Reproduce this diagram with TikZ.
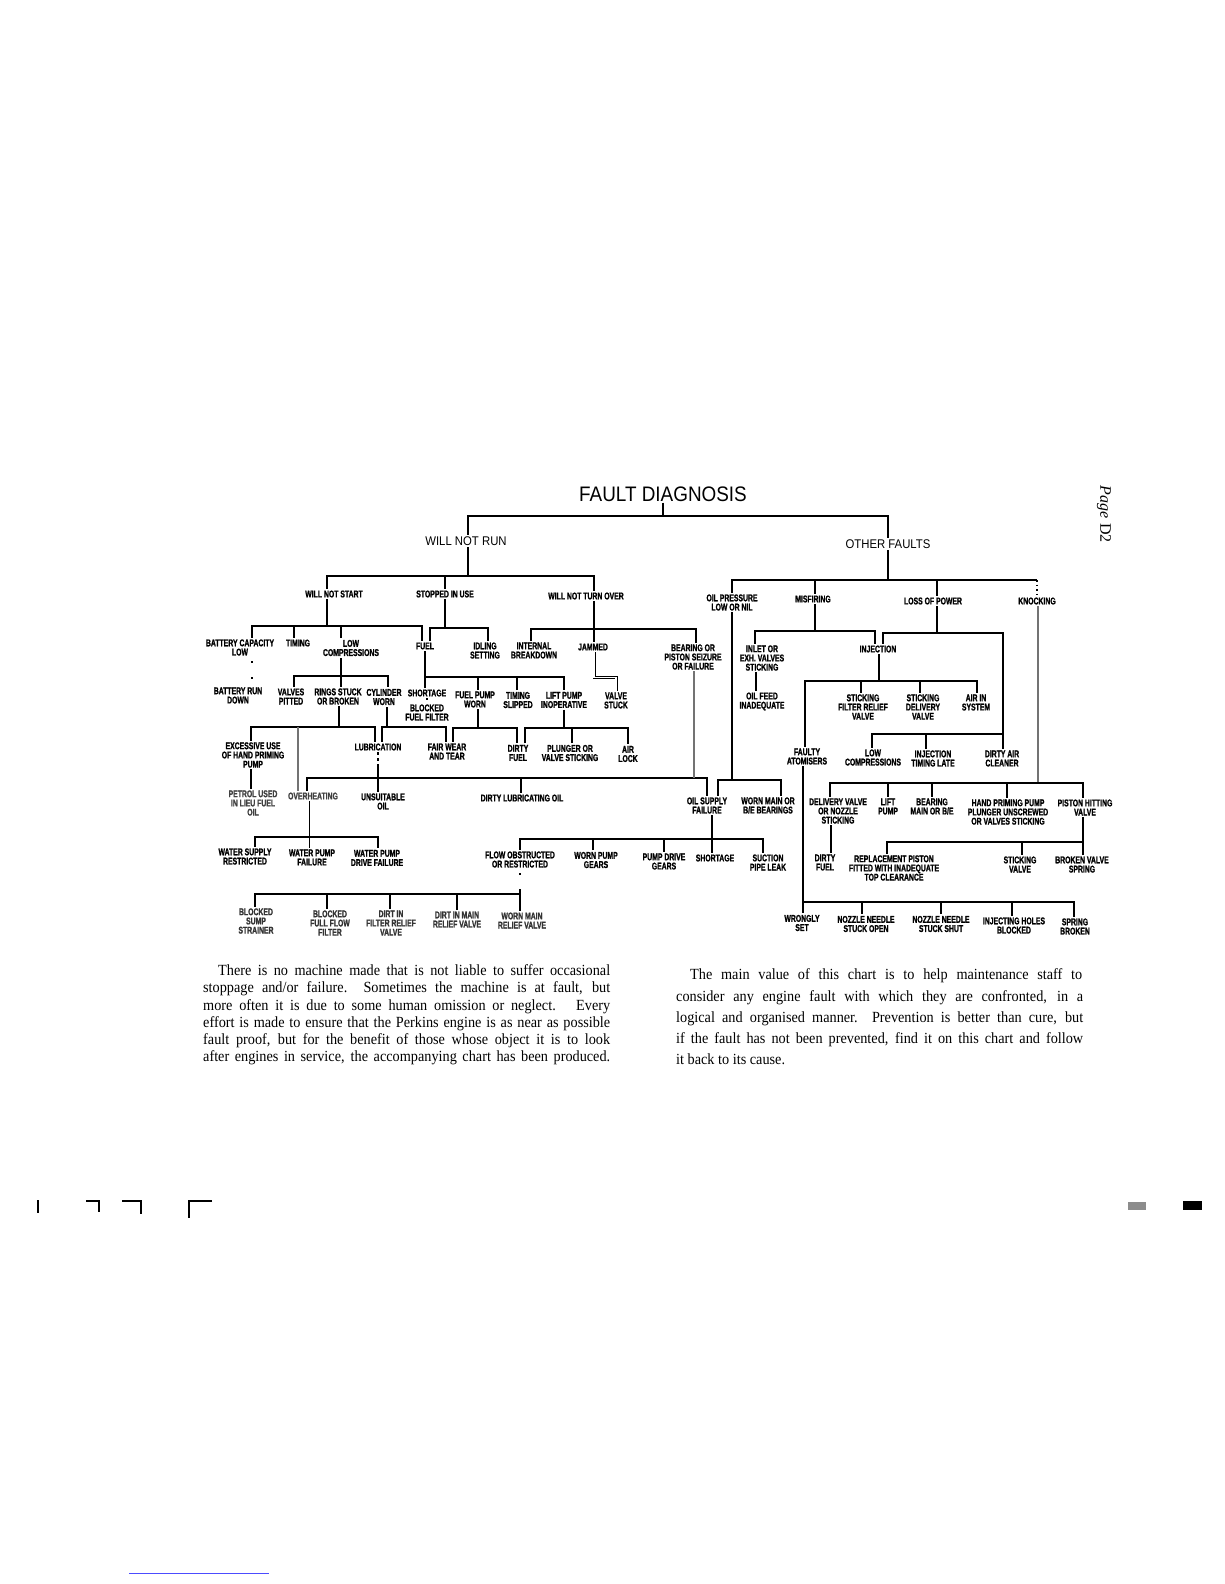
\documentclass[tikz,border=0pt]{standalone}
\usepackage{fontspec}
\setmainfont{Liberation Serif}
\newfontfamily\labfont[FakeStretch=0.7,BoldFeatures={FakeBold=1.2}]{Liberation Sans}
\newfontfamily\headfont[FakeStretch=0.9]{Liberation Sans}
\newfontfamily\parafont[FakeStretch=0.92]{Liberation Serif}

\begin{document}
\begin{tikzpicture}[x=1pt,y=-1pt,lab/.style={font=\labfont\bfseries\fontsize{9.8}{9.2}\selectfont,align=center,inner sep=1.5pt},head/.style={font=\headfont\fontsize{12.6}{12.6}\selectfont,inner sep=1.5pt},link/.style={line width=2.2pt},faint/.style={line width=1.6pt,black!55},dbl/.style={double,double distance=1.2pt,line width=0.9pt},dots/.style={line width=1.8pt,dash pattern=on 1.6pt off 3pt},para/.style={font=\parafont\fontsize{15.5}{17}\selectfont,anchor=base west,inner sep=0pt}]
\useasboundingbox (0,0) rectangle (1224,1584);
\fill[white] (0,0) rectangle (1224,1584);
\node[font=\headfont\fontsize{21}{21}\selectfont,inner sep=1pt] (title) at (663,494){FAULT DIAGNOSIS};
\node[head] (wnr) at (466,541){WILL NOT RUN};
\node[head] (of) at (888,544){OTHER FAULTS};
\node[lab] (wns) at (334,594){WILL NOT START};
\node[lab] (siu) at (445,594){STOPPED IN USE};
\node[lab] (wnto) at (586,596){WILL NOT TURN OVER};
\node[lab] (oilp) at (732,602.5){OIL PRESSURE\\LOW OR NIL};
\node[lab] (misf) at (813,599){MISFIRING};
\node[lab] (loss) at (933,601){LOSS OF POWER};
\node[lab] (knock) at (1037,601){KNOCKING};
\node[lab] (batt) at (240,647.5){BATTERY CAPACITY\\LOW};
\node[lab] (timing) at (298,643){TIMING};
\node[lab] (lowc) at (351,648){LOW\\COMPRESSIONS};
\node[lab] (fuel) at (425,646){FUEL};
\node[lab] (idling) at (485,650.5){IDLING\\SETTING};
\node[lab] (intb) at (534,650.5){INTERNAL\\BREAKDOWN};
\node[lab] (jammed) at (593,647){JAMMED};
\node[lab] (bearing) at (693,657){BEARING OR\\PISTON SEIZURE\\OR FAILURE};
\node[lab] (brun) at (238,695.5){BATTERY RUN\\DOWN};
\node[lab] (valves) at (291,696.5){VALVES\\PITTED};
\node[lab] (rings) at (338,696.5){RINGS STUCK\\OR BROKEN};
\node[lab] (cyl) at (384,697){CYLINDER\\WORN};
\node[lab] (short) at (427,693){SHORTAGE};
\node[lab] (blocked) at (427,712.5){BLOCKED\\FUEL FILTER};
\node[lab] (fpw) at (475,699.5){FUEL PUMP\\WORN};
\node[lab] (tslip) at (518,700){TIMING\\SLIPPED};
\node[lab] (lift) at (564,700){LIFT PUMP\\INOPERATIVE};
\node[lab] (vstuck) at (616,700.5){VALVE\\STUCK};
\node[lab] (exc) at (253,755){EXCESSIVE USE\\OF HAND PRIMING\\PUMP};
\node[lab] (lub) at (378,747){LUBRICATION};
\node[lab] (fairw) at (447,751.5){FAIR WEAR\\AND TEAR};
\node[lab] (dfuel) at (518,753){DIRTY\\FUEL};
\node[lab] (plung) at (570,753){PLUNGER OR\\VALVE STICKING};
\node[lab] (airl) at (628,754){AIR\\LOCK};
\node[lab,text=black!75] (petrol) at (253,803){PETROL USED\\IN LIEU FUEL\\OIL};
\node[lab,text=black!75] (overh) at (313,796){OVERHEATING};
\node[lab] (unsuit) at (383,801.5){UNSUITABLE\\OIL};
\node[lab] (dlub) at (522,798){DIRTY LUBRICATING OIL};
\node[lab] (oilsf) at (707,805.5){OIL SUPPLY\\FAILURE};
\node[lab] (wornmb) at (768,805.5){WORN MAIN OR\\B/E BEARINGS};
\node[lab] (wsup) at (245,856.5){WATER SUPPLY\\RESTRICTED};
\node[lab] (wpf) at (312,857.5){WATER PUMP\\FAILURE};
\node[lab] (wpd) at (377,858){WATER PUMP\\DRIVE FAILURE};
\node[lab] (flow) at (520,859.5){FLOW OBSTRUCTED\\OR RESTRICTED};
\node[lab] (wpg) at (596,860){WORN PUMP\\GEARS};
\node[lab] (pdg) at (664,861.5){PUMP DRIVE\\GEARS};
\node[lab] (short2) at (715,858){SHORTAGE};
\node[lab] (suct) at (768,862.5){SUCTION\\PIPE LEAK};
\node[lab,text=black!80] (bsump) at (256,921){BLOCKED\\SUMP\\STRAINER};
\node[lab,text=black!80] (bff) at (330,923){BLOCKED\\FULL FLOW\\FILTER};
\node[lab,text=black!80] (dif) at (391,923){DIRT IN\\FILTER RELIEF\\VALVE};
\node[lab,text=black!80] (dim) at (457,919.5){DIRT IN MAIN\\RELIEF VALVE};
\node[lab,text=black!80] (wmr) at (522,920.5){WORN MAIN\\RELIEF VALVE};
\node[lab] (inlet) at (762,658){INLET OR\\EXH. VALVES\\STICKING};
\node[lab] (inj) at (878,649){INJECTION};
\node[lab] (oilfeed) at (762,701.5){OIL FEED\\INADEQUATE};
\node[lab] (sfrv) at (863,707){STICKING\\FILTER RELIEF\\VALVE};
\node[lab] (sdv) at (923,707){STICKING\\DELIVERY\\VALVE};
\node[lab] (airs) at (976,702.5){AIR IN\\SYSTEM};
\node[lab] (faulty) at (807,756.5){FAULTY\\ATOMISERS};
\node[lab] (lowc2) at (873,757.5){LOW\\COMPRESSIONS};
\node[lab] (itl) at (933,758.5){INJECTION\\TIMING LATE};
\node[lab] (dac) at (1002,758.5){DIRTY AIR\\CLEANER};
\node[lab] (delv) at (838,811){DELIVERY VALVE\\OR NOZZLE\\STICKING};
\node[lab] (liftp) at (888,806.5){LIFT\\PUMP};
\node[lab] (bearm) at (932,806.5){BEARING\\MAIN OR B/E};
\node[lab] (hpp) at (1008,812){HAND PRIMING PUMP\\PLUNGER UNSCREWED\\OR VALVES STICKING};
\node[lab] (phv) at (1085,807.5){PISTON HITTING\\VALVE};
\node[lab] (dfuel2) at (825,862.5){DIRTY\\FUEL};
\node[lab] (repl) at (894,868){REPLACEMENT PISTON\\FITTED WITH INADEQUATE\\TOP CLEARANCE};
\node[lab] (stv) at (1020,864.5){STICKING\\VALVE};
\node[lab] (bvs) at (1082,864.5){BROKEN VALVE\\SPRING};
\node[lab] (wrong) at (802,923){WRONGLY\\SET};
\node[lab] (nnso) at (866,924){NOZZLE NEEDLE\\STUCK OPEN};
\node[lab] (nnss) at (941,924){NOZZLE NEEDLE\\STUCK SHUT};
\node[lab] (ihb) at (1014,925.5){INJECTING HOLES\\BLOCKED};
\node[lab] (sprb) at (1075,926.5){SPRING\\BROKEN};
\coordinate (bTop) at (663,516); \coordinate (bWNR) at (468,576); \coordinate (bOF) at (888,580); \coordinate (bWNS) at (327,626); \coordinate (bSIU) at (445,628); \coordinate (bWNTO) at (594,629); \coordinate (bLOWC) at (341,676); \coordinate (bFUEL) at (425,677); \coordinate (bRING) at (339,727); \coordinate (bCYL) at (387,727); \coordinate (bFPW) at (478,728); \coordinate (bLIFT) at (564,728); \coordinate (bLUB) at (378,778); \coordinate (bOILP) at (732,780); \coordinate (bOVH) at (308,837); \coordinate (bOSF) at (712,839); \coordinate (bFLOW) at (520,894); \coordinate (bMIS) at (815,631); \coordinate (bLOSS) at (937,633); \coordinate (bINJ) at (879,681); \coordinate (bDAC) at (1003,734); \coordinate (bKN) at (1038,783); \coordinate (bPHV) at (1083,842); \coordinate (bFAU) at (803,902);
\draw[link] (title.south) -- (bTop); \draw[link] ([xshift=2pt]wnr.north) |- (bTop) -| (of.north); \draw[link] ([xshift=2pt]wnr.south) -- (bWNR); \draw[link] ([xshift=-7pt]wns.north) |- (bWNR) -| ([xshift=8pt]wnto.north); \draw[link] (siu.north) -- (siu.north |- bWNR); \draw[link] (of.south) -- (bOF); \draw[link] (oilp.north) |- (bOF) -- (bOF -| knock.north); \draw[dots] (bOF -| knock.north) -- (knock.north); \draw[link] ([xshift=2pt]misf.north) -- ([xshift=2pt]misf.north |- bOF); \draw[link] ([xshift=4pt]loss.north) -- ([xshift=4pt]loss.north |- bOF);
\draw[link] ([xshift=-7pt]wns.south) -- (bWNS); \draw[link] ([xshift=12pt]batt.north) |- (bWNS) -| ([xshift=-3pt]fuel.north); \draw[link] ([xshift=-4pt]timing.north) -- ([xshift=-4pt]timing.north |- bWNS); \draw[link] ([xshift=-10pt]lowc.north) -- ([xshift=-10pt]lowc.north |- bWNS); \draw[link] (siu.south) -- (bSIU); \draw[link] ([xshift=5pt]fuel.north) |- (bSIU) -| ([xshift=3pt]idling.north); \draw[link] ([xshift=8pt]wnto.south) -- ([xshift=1pt]jammed.north); \draw[link] ([xshift=-3pt]intb.north) |- (bWNTO) -| ([xshift=3pt]bearing.north); \draw[dbl] ([xshift=1pt]jammed.south) -- ++(0,25) -| (vstuck.north); \draw[dots,line width=2pt,dash pattern=on 2pt off 14pt,dash phase=12pt] ([xshift=12pt]batt.south) -- ([xshift=14pt]brun.north);
\draw[link] ([xshift=-10pt]lowc.south) -- ([xshift=3pt]rings.north); \draw[link] ([xshift=3pt]valves.north) |- (bLOWC) -| ([xshift=4pt]cyl.north); \draw[link] (fuel.south) -- ([xshift=-2pt]short.north); \draw[link] (bFUEL) -| (lift.north); \draw[link] ([xshift=3pt]fpw.north) -- ([xshift=3pt]fpw.north |- bFUEL); \draw[link] ([xshift=-1pt]tslip.north) -- ([xshift=-1pt]tslip.north |- bFUEL); \draw[dots] (short.south) -- (blocked.north);
\draw[link] ([xshift=1pt]rings.south) -- (bRING); \draw[link] ([xshift=-2pt]exc.north) |- (bRING) -| ([xshift=-3pt]lub.north); \draw[faint] ([xshift=-15pt]overh.north) -- ([xshift=-15pt]overh.north |- bRING); \draw[link] ([xshift=3pt]cyl.south) -- (bCYL); \draw[link] ([xshift=4pt]lub.north) |- (bCYL) -| ([xshift=-1pt]fairw.north); \draw[link] ([xshift=3pt]fpw.south) -- (bFPW); \draw[link] ([xshift=6pt]fairw.north) |- (bFPW) -| ([xshift=-1pt]dfuel.north); \draw[link] (lift.south) -- (bLIFT); \draw[link] ([xshift=7pt]dfuel.north) |- (bLIFT) -| (airl.north); \draw[link] ([xshift=2pt]plung.north) -- ([xshift=2pt]plung.north |- bLIFT);
\draw[link] ([xshift=-2pt]exc.south) -- ([xshift=-2pt]petrol.north); \draw[link,dash pattern=on 3pt off 3pt on 3pt off 3pt on 60pt off 1pt] (lub.south) -- ([xshift=-5pt]unsuit.north); \draw[link] ([xshift=-6pt]overh.north) |- (bLUB) -| (oilsf.north); \draw[link] ([xshift=-1pt]dlub.north) -- ([xshift=-1pt]dlub.north |- bLUB); \draw[faint] ([xshift=1pt]bearing.south) -- ([xshift=1pt]bearing.south |- bLUB); \draw[link] (oilp.south) -- (bOILP); \draw[link] ([xshift=11pt]oilsf.north) |- (bOILP) -| ([xshift=13pt]wornmb.north);
\draw[dbl] ([xshift=-5pt]overh.south) -- ([xshift=-4pt]wpf.north); \draw[link] ([xshift=10pt]wsup.north) |- (bOVH) -| ([xshift=1pt]wpd.north); \draw[link] ([xshift=5pt]oilsf.south) -- ([xshift=-3pt]short2.north); \draw[link] (flow.north) |- (bOSF) -| ([xshift=-5pt]suct.north); \draw[link] ([xshift=-3pt]wpg.north) -- ([xshift=-3pt]wpg.north |- bOSF); \draw[link] (pdg.north) -- (pdg.north |- bOSF);
\draw[dots,dash pattern=on 2pt off 30pt,dash phase=28pt] (flow.south) -- (bFLOW); \draw[link] (bFLOW) -- ++(0,-5); \draw[link] ([xshift=-1pt]bsump.north) |- (bFLOW) -- ([xshift=-2pt]wmr.north); \draw[link] ([xshift=-3pt]bff.north) -- ([xshift=-3pt]bff.north |- bFLOW); \draw[link] ([xshift=-1pt]dif.north) -- ([xshift=-1pt]dif.north |- bFLOW); \draw[link] (dim.north) -- (dim.north |- bFLOW);
\draw[link] ([xshift=2pt]misf.south) -- (bMIS); \draw[link] ([xshift=-7pt]inlet.north) |- (bMIS) -| ([xshift=-3pt]inj.north); \draw[link] ([xshift=-6pt]inlet.south) -- ([xshift=-6pt]oilfeed.north); \draw[link] ([xshift=4pt]loss.south) -- (bLOSS); \draw[link] ([xshift=5pt]inj.north) |- (bLOSS) -| (bDAC); \draw[link] ([xshift=-1pt]lowc2.north) |- (bDAC) -- ([xshift=1pt]dac.north); \draw[link] ([xshift=-7pt]itl.north) -- ([xshift=-7pt]itl.north |- bDAC);
\draw[link] ([xshift=1pt]inj.south) -- (bINJ); \draw[link] ([xshift=-2pt]faulty.north) |- (bINJ) -| ([xshift=1pt]airs.north); \draw[link] ([xshift=-2pt]sfrv.north) -- ([xshift=-2pt]sfrv.north |- bINJ); \draw[link] ([xshift=-3pt]sdv.north) -- ([xshift=-3pt]sdv.north |- bINJ);
\draw[faint] ([xshift=1pt]knock.south) -- (bKN); \draw[link] ([xshift=-8pt]delv.north) |- (bKN) -| ([xshift=-2pt]phv.north); \draw[link] (liftp.north) -- (liftp.north |- bKN); \draw[link] (bearm.north) -- (bearm.north |- bKN); \draw[link] ([xshift=-1pt]hpp.north) -- ([xshift=-1pt]hpp.north |- bKN); \draw[link] ([xshift=-7pt]delv.south) -- ([xshift=6pt]dfuel2.north); \draw[link] ([xshift=-2pt]phv.south) -- ([xshift=1pt]bvs.north); \draw[link] ([xshift=-7pt]repl.north) |- (bPHV); \draw[link] ([xshift=2pt]stv.north) -- ([xshift=2pt]stv.north |- bPHV);
\draw[link] ([xshift=-4pt]faulty.south) -- ([xshift=1pt]wrong.north); \draw[link] (bFAU) -| ([xshift=-1pt]sprb.north); \draw[link] ([xshift=-4pt]nnso.north) -- ([xshift=-4pt]nnso.north |- bFAU); \draw[link] (nnss.north) -- (nnss.north |- bFAU); \draw[link] ([xshift=-2pt]ihb.north) -- ([xshift=-2pt]ihb.north |- bFAU);
\node[para] (pl1) at (218,975.5){\makebox[392pt][s]{There is no machine made that is not liable to suffer occasional}};
\node[para] (pl2) at (203,992){\makebox[407pt][s]{stoppage and/or failure.\ \ Sometimes the machine is at fault, but}};
\node[para] (pl3) at (203,1010){\makebox[407pt][s]{more often it is due to some human omission or neglect.\ \ \ Every}};
\node[para] (pl4) at (203,1027){\makebox[407pt][s]{effort is made to ensure that the Perkins engine is as near as possible}};
\node[para] (pl5) at (203,1044){\makebox[407pt][s]{fault proof, but for the benefit of those whose object it is to look}};
\node[para] (pl6) at (203,1061.5){\makebox[407pt][s]{after engines in service, the accompanying chart has been produced.}};
\node[para] (pr1) at (690,979.5){\makebox[392pt][s]{The main value of this chart is to help maintenance staff to}};
\node[para] (pr2) at (676,1001){\makebox[407pt][s]{consider any engine fault with which they are confronted, in a}};
\node[para] (pr3) at (676,1022){\makebox[407pt][s]{logical and organised manner.\ \ Prevention is better than cure, but}};
\node[para] (pr4) at (676,1043){\makebox[407pt][s]{if the fault has not been prevented, find it on this chart and follow}};
\node[para] (pr5) at (676,1064){it back to its cause.};
\node[rotate=-90,font=\fontsize{16}{16}\selectfont,inner sep=0pt] (pg) at (1104,514){\textit{Page}\hspace{5pt}D2};
\draw[line width=1.8pt] (38,1200) -- (38,1213); \draw[line width=1.8pt] (86,1201) -- (99,1201) -- (99,1212); \draw[line width=1.8pt] (122,1201) -- (141,1201) -- (141,1214); \draw[line width=1.8pt] (212,1201) -- (189,1201) -- (189,1218);
\fill[black!45] (1128,1202) rectangle (1146,1210); \fill[black] (1183,1201) rectangle (1202,1210); \draw[blue!70,line width=1pt] (129,1573) -- (269,1573);
\end{tikzpicture}
\end{document}
